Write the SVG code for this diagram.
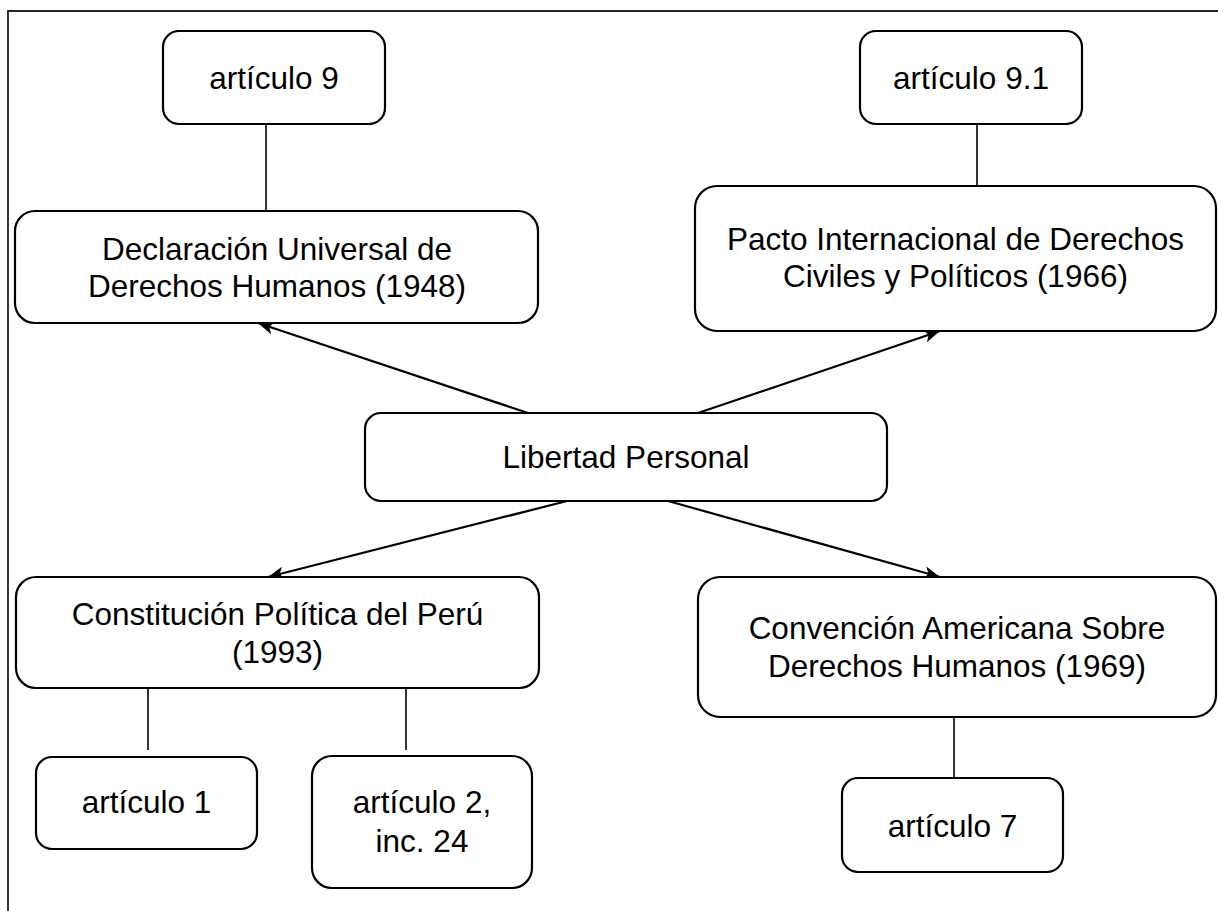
<svg xmlns="http://www.w3.org/2000/svg" width="1218" height="911" viewBox="0 0 1218 911">
<style>
.box{fill:#fff;stroke:#000;stroke-width:2.2}
.t{font-family:"Liberation Sans",Arial,sans-serif;font-size:31.5px;fill:#000;text-anchor:middle}
.ln{stroke:#000;stroke-width:1.6;fill:none}
.ar{stroke:#000;stroke-width:2.2;fill:none;marker-end:url(#ah)}
</style>
<defs>
<marker id="ah" markerWidth="18" markerHeight="14" refX="16" refY="6.5" orient="auto" markerUnits="userSpaceOnUse" viewBox="0 0 18 13">
<path d="M0,0 L16,6.5 L0,13 L4,6.5 Z" fill="#000"/>
</marker>
</defs>
<rect width="1218" height="911" fill="#fff"/>
<g id="frame"><path d="M8,911 V11 H1218" fill="none" stroke="#222" stroke-width="1.8"/></g>
<g id="connectors">
<line class="ln" x1="266" y1="124" x2="266" y2="211"/>
<line class="ln" x1="977" y1="124" x2="977" y2="186"/>
<line class="ln" x1="148" y1="688" x2="148" y2="750"/>
<line class="ln" x1="406" y1="688" x2="406" y2="750"/>
<line class="ln" x1="954" y1="717" x2="954" y2="778"/>
<line class="ar" x1="528" y1="413" x2="258" y2="323"/>
<line class="ar" x1="698" y1="413" x2="940" y2="331"/>
<line class="ar" x1="567" y1="501" x2="268" y2="577"/>
<line class="ar" x1="668" y1="501" x2="940" y2="577"/>
</g>
<g id="art9"><rect class="box" x="163" y="31" width="222" height="93" rx="16"/><text class="t" x="274" y="89">artículo 9</text></g>
<g id="declaracion"><rect class="box" x="15" y="211" width="523" height="112" rx="20"/><text class="t" x="277" y="260">Declaración Universal de</text><text class="t" x="277" y="297">Derechos Humanos (1948)</text></g>
<g id="art91"><rect class="box" x="860" y="31" width="222" height="93" rx="16"/><text class="t" x="971" y="89">artículo 9.1</text></g>
<g id="pacto"><rect class="box" x="695" y="186" width="521" height="145" rx="22"/><text class="t" x="955.5" y="250">Pacto Internacional de Derechos</text><text class="t" x="955.5" y="287">Civiles y Políticos (1966)</text></g>
<g id="libertad"><rect class="box" x="365" y="413" width="522" height="88" rx="16"/><text class="t" x="626" y="468">Libertad Personal</text></g>
<g id="constitucion"><rect class="box" x="16" y="577" width="523" height="111" rx="20"/><text class="t" x="277.5" y="625">Constitución Política del Perú</text><text class="t" x="277.5" y="663">(1993)</text></g>
<g id="convencion"><rect class="box" x="698" y="577" width="518" height="140" rx="22"/><text class="t" x="957" y="639">Convención Americana Sobre</text><text class="t" x="957" y="677">Derechos Humanos (1969)</text></g>
<g id="art1"><rect class="box" x="36" y="757" width="221" height="92" rx="16"/><text class="t" x="146.5" y="813">artículo 1</text></g>
<g id="art2"><rect class="box" x="312" y="756" width="220" height="132" rx="20"/><text class="t" x="422" y="813">artículo 2,</text><text class="t" x="422" y="852">inc. 24</text></g>
<g id="art7"><rect class="box" x="842" y="778" width="221" height="94" rx="16"/><text class="t" x="952.5" y="837">artículo 7</text></g>
</svg>
